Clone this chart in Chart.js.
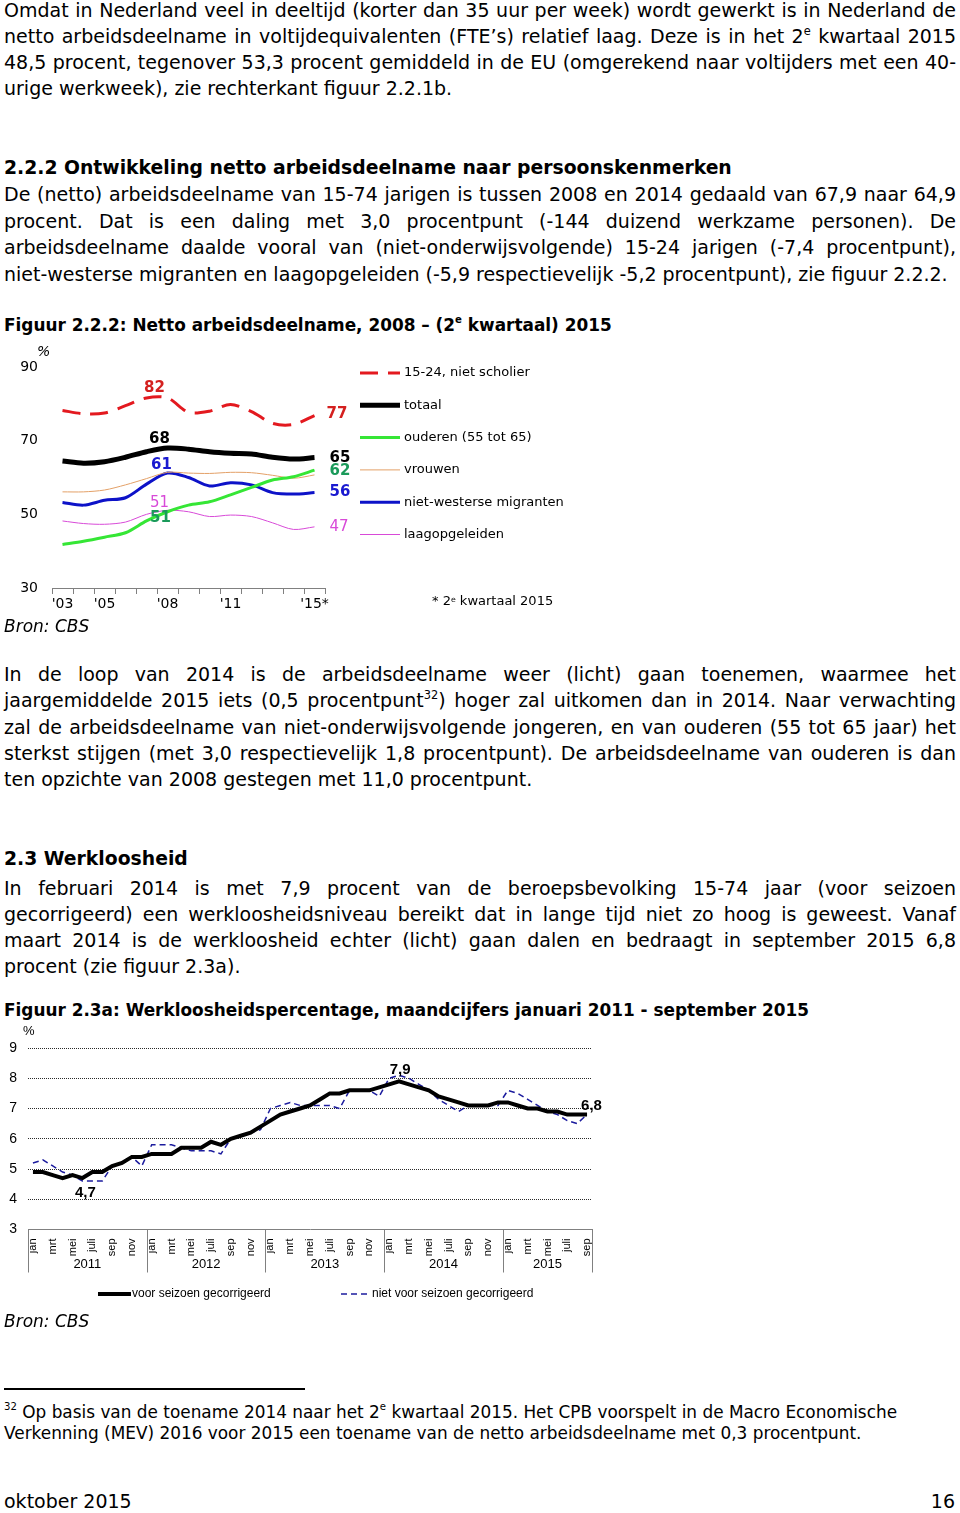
<!DOCTYPE html>
<html>
<head>
<meta charset="utf-8">
<script src="https://cdn.jsdelivr.net/npm/chart.js@4/dist/chart.umd.min.js"></script>
<style>
  body { margin: 0; width: 960px; height: 1513px; position: relative; background: #fff; color: #000;
         font-family: "DejaVu Sans", Verdana, sans-serif; overflow: hidden; }
  .l { position: absolute; left: 4px; width: 952px; height: 26px; line-height: 26px; font-size: 19px; white-space: nowrap; }
  .h { font-weight: bold; font-size: 18.8px; }
  .f { font-weight: bold; font-size: 16.9px; }
  .i { font-style: italic; font-size: 17px; }
  .n { font-size: 16.9px; }
  sup { font-size: 60%; line-height: 1; vertical-align: top; position: relative; top: 3px; }
  .abs { position: absolute; white-space: nowrap; }
  canvas { position: absolute; left: 0; }
</style>
</head>
<body>

<div class="l j" style="top:-3px"><span>Omdat in Nederland veel in deeltijd (korter dan 35 uur per week) wordt gewerkt is in Nederland de</span></div>
<div class="l j" style="top:23px"><span>netto arbeidsdeelname in voltijdequivalenten (FTE’s) relatief laag. Deze is in het 2<sup>e</sup> kwartaal 2015</span></div>
<div class="l j" style="top:49px"><span>48,5 procent, tegenover 53,3 procent gemiddeld in de EU (omgerekend naar voltijders met een 40-</span></div>
<div class="l" style="top:75px"><span>urige werkweek), zie rechterkant figuur 2.2.1b.</span></div>

<div class="l h" style="top:155px"><span>2.2.2 Ontwikkeling netto arbeidsdeelname naar persoonskenmerken</span></div>
<div class="l j" style="top:181px"><span>De (netto) arbeidsdeelname van 15-74 jarigen is tussen 2008 en 2014 gedaald van 67,9 naar 64,9</span></div>
<div class="l j" style="top:208px"><span>procent. Dat is een daling met 3,0 procentpunt (-144 duizend werkzame personen). De</span></div>
<div class="l j" style="top:234px"><span>arbeidsdeelname daalde vooral van (niet-onderwijsvolgende) 15-24 jarigen (-7,4 procentpunt),</span></div>
<div class="l" style="top:261px"><span>niet-westerse migranten en laagopgeleiden (-5,9 respectievelijk -5,2 procentpunt), zie figuur 2.2.2.</span></div>

<div class="l f" style="top:312px"><span>Figuur 2.2.2: Netto arbeidsdeelname, 2008 – (2<sup>e</sup> kwartaal) 2015</span></div>

<canvas id="chart1" width="620" height="280" style="top:340px"></canvas>
<div class="abs" style="left:37px;top:343px;font-size:14px;font-style:italic">%</div>
<div class="abs" style="left:432px;top:593px;font-size:13px">* 2<sup>e</sup> kwartaal 2015</div>
<div class="l i" style="top:613px"><span>Bron: CBS</span></div>

<div class="l j" style="top:661px"><span>In de loop van 2014 is de arbeidsdeelname weer (licht) gaan toenemen, waarmee het</span></div>
<div class="l j" style="top:687px"><span>jaargemiddelde 2015 iets (0,5 procentpunt<sup>32</sup>) hoger zal uitkomen dan in 2014. Naar verwachting</span></div>
<div class="l j" style="top:714px"><span>zal de arbeidsdeelname van niet-onderwijsvolgende jongeren, en van ouderen (55 tot 65 jaar) het</span></div>
<div class="l j" style="top:740px"><span>sterkst stijgen (met 3,0 respectievelijk 1,8 procentpunt). De arbeidsdeelname van ouderen is dan</span></div>
<div class="l" style="top:766px"><span>ten opzichte van 2008 gestegen met 11,0 procentpunt.</span></div>

<div class="l h" style="top:846px"><span>2.3 Werkloosheid</span></div>
<div class="l j" style="top:875px"><span>In februari 2014 is met 7,9 procent van de beroepsbevolking 15-74 jaar (voor seizoen</span></div>
<div class="l j" style="top:901px"><span>gecorrigeerd) een werkloosheidsniveau bereikt dat in lange tijd niet zo hoog is geweest. Vanaf</span></div>
<div class="l j" style="top:927px"><span>maart 2014 is de werkloosheid echter (licht) gaan dalen en bedraagt in september 2015 6,8</span></div>
<div class="l" style="top:953px"><span>procent (zie figuur 2.3a).</span></div>

<div class="l f" style="top:997px"><span>Figuur 2.3a: Werkloosheidspercentage, maandcijfers januari 2011 - september 2015</span></div>

<canvas id="chart2" width="620" height="290" style="top:1025px"></canvas>
<div class="abs" style="left:23px;top:1023px;font-size:13px;font-family:'Liberation Sans',Arial,sans-serif">%</div>
<div class="l i" style="top:1308px"><span>Bron: CBS</span></div>

<div class="abs" style="left:4px;top:1388px;width:301px;height:2px;background:#000"></div>
<div class="l n" style="top:1399px"><span><sup>32</sup> Op basis van de toename 2014 naar het 2<sup>e</sup> kwartaal 2015. Het CPB voorspelt in de Macro Economische</span></div>
<div class="l n" style="top:1420px"><span>Verkenning (MEV) 2016 voor 2015 een toename van de netto arbeidsdeelname met 0,3 procentpunt.</span></div>

<div class="l" style="top:1488px"><span>oktober 2015</span></div>
<div class="l" style="top:1488px;text-align:right;width:951px"><span>16</span></div>

<script>
// justify the lines that run to the right margin
document.querySelectorAll(".j").forEach((el) => {
  const span = el.firstElementChild;
  const w = span.getBoundingClientRect().width;
  const spaces = (span.textContent.match(/ /g) || []).length;
  if (spaces) el.style.wordSpacing = (952 - w) / spaces + "px";
});

// ---------- figuur 2.2.2 ----------
const jaren1 = ["'03", "'04", "'05", "'06", "'07", "'08", "'09", "'10", "'11", "'12", "'13", "'14", "'15*"];
const getoondeJaren1 = ["'03", "'05", "'08", "'11", "'15*"];
const yTicks1 = [30, 50, 70, 90];

const jongeren = [78.2, 77.3, 77.5, 79.5, 81.6, 81.6, 77.7, 78.0, 79.8, 77.9, 74.7, 74.4, 76.8];
const totaal = [64.5, 63.9, 64.3, 65.5, 67.0, 68.0, 67.7, 67.0, 66.6, 66.4, 65.5, 65.0, 65.4];
const ouderen = [41.8, 42.7, 43.8, 45.0, 48.2, 50.7, 52.5, 53.4, 55.3, 57.3, 59.3, 60.2, 62.0];
const vrouwen = [56.1, 56.1, 56.6, 58.0, 59.7, 61.4, 61.2, 61.1, 61.4, 61.3, 60.6, 59.8, 60.7];
const migranten = [53.2, 52.5, 53.8, 54.5, 58.2, 61.2, 60.0, 57.7, 58.6, 58.0, 55.9, 55.5, 55.9];
const laagopgeleid = [48.2, 47.5, 47.3, 47.9, 50.0, 51.1, 50.7, 49.4, 49.8, 49.4, 47.7, 45.9, 46.6];

const verdana = "'DejaVu Sans', Verdana, sans-serif";
const arial = "'Liberation Sans', Arial, sans-serif";

// labels next to points: dataset, point index, text, offset
const valueLabels = {
  id: "valueLabels",
  afterDatasetsDraw(chart, args, opts) {
    const ctx = chart.ctx;
    const x = chart.scales.x, y = chart.scales.y;
    ctx.save();
    ctx.textBaseline = "middle";
    opts.items.forEach((it) => {
      const v = chart.data.datasets[it.ds].data[it.idx];
      ctx.font = (it.bold ? "bold " : "") + opts.size + "px " + opts.family;
      ctx.fillStyle = it.color;
      ctx.textAlign = it.align || "center";
      ctx.fillText(it.text, x.getPixelForValue(it.idx) + it.dx, y.getPixelForValue(v) + it.dy);
    });
    ctx.restore();
  },
};

// hand drawn legend, one row per dataset
const lineLegend = {
  id: "lineLegend",
  afterDraw(chart, args, opts) {
    const ctx = chart.ctx;
    ctx.save();
    ctx.font = opts.size + "px " + opts.family;
    ctx.textBaseline = "middle";
    ctx.fillStyle = "#000";
    opts.rows.forEach((r) => {
      const ds = chart.data.datasets[r.ds];
      ctx.beginPath();
      ctx.strokeStyle = ds.borderColor;
      ctx.lineWidth = ds.borderWidth;
      ctx.setLineDash(ds.borderDash || []);
      ctx.moveTo(r.x, r.y);
      ctx.lineTo(r.x + r.len, r.y);
      ctx.stroke();
      ctx.setLineDash([]);
      ctx.fillText(ds.label, r.tx, r.y);
    });
    ctx.restore();
  },
};

new Chart(document.getElementById("chart1"), {
  type: "line",
  data: {
    labels: jaren1,
    datasets: [
      { label: "15-24, niet scholier", data: jongeren, borderColor: "#e3191f", borderWidth: 3, borderDash: [18, 10] },
      { label: "totaal", data: totaal, borderColor: "#000000", borderWidth: 5 },
      { label: "ouderen (55 tot 65)", data: ouderen, borderColor: "#35e635", borderWidth: 3 },
      { label: "vrouwen", data: vrouwen, borderColor: "#e3a067", borderWidth: 1 },
      { label: "niet-westerse migranten", data: migranten, borderColor: "#0d12c8", borderWidth: 3 },
      { label: "laagopgeleiden", data: laagopgeleid, borderColor: "#d84ad8", borderWidth: 1 },
    ],
  },
  options: {
    responsive: false,
    animation: false,
    layout: { padding: { top: 27, right: 295, left: 0, bottom: 0 } },
    elements: { point: { radius: 0 }, line: { tension: 0.3, borderCapStyle: "butt" } },
    plugins: {
      legend: { display: false },
      tooltip: { enabled: false },
      lineLegend: {
        size: 13,
        family: verdana,
        rows: [0, 1, 2, 3, 4, 5].map((i) => ({ ds: i, x: 360, len: 40, tx: 404, y: 33 + i * 32.3 })),
      },
      valueLabels: {
        size: 15,
        family: verdana,
        items: [
          { ds: 0, idx: 5, text: "82", dx: -13, dy: -10, color: "#d4201f", bold: true },
          { ds: 1, idx: 5, text: "68", dx: -8, dy: -9, color: "#000", bold: true },
          { ds: 4, idx: 5, text: "61", dx: -6, dy: -8, color: "#1a1ad0", bold: true },
          { ds: 5, idx: 5, text: "51", dx: -8, dy: -7, color: "#d84ad8", bold: false },
          { ds: 2, idx: 5, text: "51", dx: -7, dy: 6, color: "#1a9a5a", bold: true },
          { ds: 0, idx: 12, text: "77", dx: 12, dy: -2, color: "#d4201f", bold: true, align: "left" },
          { ds: 1, idx: 12, text: "65", dx: 15, dy: 0, color: "#000", bold: true, align: "left" },
          { ds: 2, idx: 12, text: "62", dx: 15, dy: 1, color: "#1a9a5a", bold: true, align: "left" },
          { ds: 4, idx: 12, text: "56", dx: 15, dy: 0, color: "#1a1ad0", bold: true, align: "left" },
          { ds: 5, idx: 12, text: "47", dx: 15, dy: 0, color: "#d84ad8", bold: false, align: "left" },
        ],
      },
    },
    scales: {
      x: {
        offset: true,
        grid: { display: true, drawOnChartArea: false, offset: true, tickLength: 6, color: "#808080" },
        border: { display: true, color: "#808080" },
        ticks: {
          autoSkip: false,
          maxRotation: 0,
          padding: 2,
          color: "#000",
          font: { family: verdana, size: 14 },
          callback: (v, i) => (getoondeJaren1.includes(jaren1[i]) ? jaren1[i] : ""),
        },
        afterFit: (s) => { s.height = 32; },
      },
      y: {
        min: 30,
        max: 90,
        grid: { display: false, drawTicks: false },
        border: { display: false },
        ticks: { padding: 14, color: "#000", font: { family: verdana, size: 14 } },
        afterBuildTicks: (s) => { s.ticks = yTicks1.map((v) => ({ value: v })); },
        afterFit: (s) => { s.width = 52; },
      },
    },
  },
  plugins: [lineLegend, valueLabels],
});

// ---------- figuur 2.3a ----------
const jaren2 = ["2011", "2012", "2013", "2014", "2015"];
const maandenPerJaar = [12, 12, 12, 12, 9];
const maandNamen = ["jan", "feb", "mrt", "apr", "mei", "jun", "juli", "aug", "sep", "okt", "nov", "dec"];
const getoondeMaanden = ["jan", "mrt", "mei", "juli", "sep", "nov"];
const maanden = [];
maandenPerJaar.forEach((n) => maanden.push(...maandNamen.slice(0, n)));
const yTicks2 = [3, 4, 5, 6, 7, 8, 9];

const gecorrigeerd = [
  4.9, 4.9, 4.8, 4.7, 4.8, 4.7, 4.9, 4.9, 5.1, 5.2, 5.4, 5.4,
  5.5, 5.5, 5.5, 5.7, 5.7, 5.7, 5.9, 5.8, 6.0, 6.1, 6.2, 6.4,
  6.6, 6.8, 6.9, 7.0, 7.1, 7.3, 7.5, 7.5, 7.6, 7.6, 7.6, 7.7,
  7.8, 7.9, 7.8, 7.7, 7.6, 7.4, 7.3, 7.2, 7.1, 7.1, 7.1, 7.2,
  7.2, 7.1, 7.0, 7.0, 6.9, 6.9, 6.8, 6.8, 6.8,
];
const nietGecorrigeerd = [
  5.2, 5.3, 5.1, 4.9, 4.8, 4.6, 4.6, 4.6, 5.1, 5.2, 5.4, 5.1,
  5.8, 5.8, 5.8, 5.7, 5.6, 5.6, 5.6, 5.5, 6.0, 6.1, 6.2, 6.3,
  7.0, 7.1, 7.2, 7.1, 7.1, 7.1, 7.1, 7.0, 7.6, 7.6, 7.6, 7.4,
  8.0, 8.1, 8.0, 7.8, 7.6, 7.3, 7.1, 6.9, 7.1, 7.1, 7.1, 7.1,
  7.6, 7.5, 7.3, 7.1, 6.9, 6.8, 6.6, 6.5, 6.8,
];

// year boxes under the month labels
const yearBoxes = {
  id: "yearBoxes",
  afterDraw(chart, args, opts) {
    const ctx = chart.ctx;
    const x = chart.scales.x;
    const top = chart.chartArea.bottom;
    ctx.save();
    ctx.strokeStyle = "#808080";
    ctx.lineWidth = 1;
    ctx.font = opts.size + "px " + opts.family;
    ctx.textAlign = "center";
    ctx.textBaseline = "middle";
    ctx.fillStyle = "#000";
    let start = 0;
    jaren2.forEach((jaar, j) => {
      const end = start + maandenPerJaar[j];
      const x0 = x.getPixelForValue(start - 0.5);
      const x1 = x.getPixelForValue(end - 0.5);
      ctx.beginPath();
      ctx.moveTo(Math.round(x0) + 0.5, top);
      ctx.lineTo(Math.round(x0) + 0.5, top + opts.depth);
      if (j === jaren2.length - 1) {
        ctx.moveTo(Math.round(x1) + 0.5, top);
        ctx.lineTo(Math.round(x1) + 0.5, top + opts.depth);
      }
      ctx.stroke();
      const mid = x.getPixelForValue((start + 12 / 2) - 0.5);
      ctx.fillText(jaar, j === jaren2.length - 1 ? (x0 + x1) / 2 : mid, top + opts.labelY);
      start = end;
    });
    ctx.restore();
  },
};

new Chart(document.getElementById("chart2"), {
  type: "line",
  data: {
    labels: maanden,
    datasets: [
      { label: "voor seizoen gecorrigeerd", data: gecorrigeerd, borderColor: "#000000", borderWidth: 4 },
      { label: "niet voor seizoen gecorrigeerd", data: nietGecorrigeerd, borderColor: "#1c1c9e", borderWidth: 1.5, borderDash: [6, 4] },
    ],
  },
  options: {
    responsive: false,
    animation: false,
    layout: { padding: { top: 23, right: 28, left: 0, bottom: 0 } },
    elements: { point: { radius: 0 }, line: { tension: 0 } },
    plugins: {
      legend: { display: false },
      tooltip: { enabled: false },
      lineLegend: {
        size: 12,
        family: arial,
        rows: [
          { ds: 0, x: 98, len: 33, tx: 132, y: 269 },
          { ds: 1, x: 341, len: 26, tx: 372, y: 269 },
        ],
      },
      valueLabels: {
        size: 15,
        family: arial,
        items: [
          { ds: 0, idx: 5, text: "4,7", dx: 3, dy: 15, color: "#000", bold: true },
          { ds: 0, idx: 37, text: "7,9", dx: 1, dy: -11, color: "#000", bold: true },
          { ds: 0, idx: 56, text: "6,8", dx: -6, dy: -9, color: "#000", bold: true, align: "left" },
        ],
      },
      yearBoxes: { size: 13, family: arial, depth: 43, labelY: 35 },
    },
    scales: {
      x: {
        offset: true,
        grid: { display: false },
        border: { display: true, color: "#808080" },
        ticks: {
          autoSkip: false,
          minRotation: 90,
          maxRotation: 90,
          padding: 1,
          color: "#000",
          font: { family: arial, size: 11 },
          callback: (v, i) => (getoondeMaanden.includes(maanden[i]) ? maanden[i] : ""),
        },
        afterFit: (s) => { s.height = 85.5; },
      },
      y: {
        min: 3,
        max: 9,
        grid: {
          drawTicks: false,
          color: (c) => (c.tick.value === 3 ? "rgba(0,0,0,0)" : "#2a2a2a"),
          lineWidth: 1,
        },
        border: { display: false, dash: [1, 1] },
        ticks: { padding: 11, color: "#000", font: { family: arial, size: 14 } },
        afterBuildTicks: (s) => { s.ticks = yTicks2.map((v) => ({ value: v })); },
        afterFit: (s) => { s.width = 28; },
      },
    },
  },
  plugins: [lineLegend, valueLabels, yearBoxes],
});
</script>
</body>
</html>
